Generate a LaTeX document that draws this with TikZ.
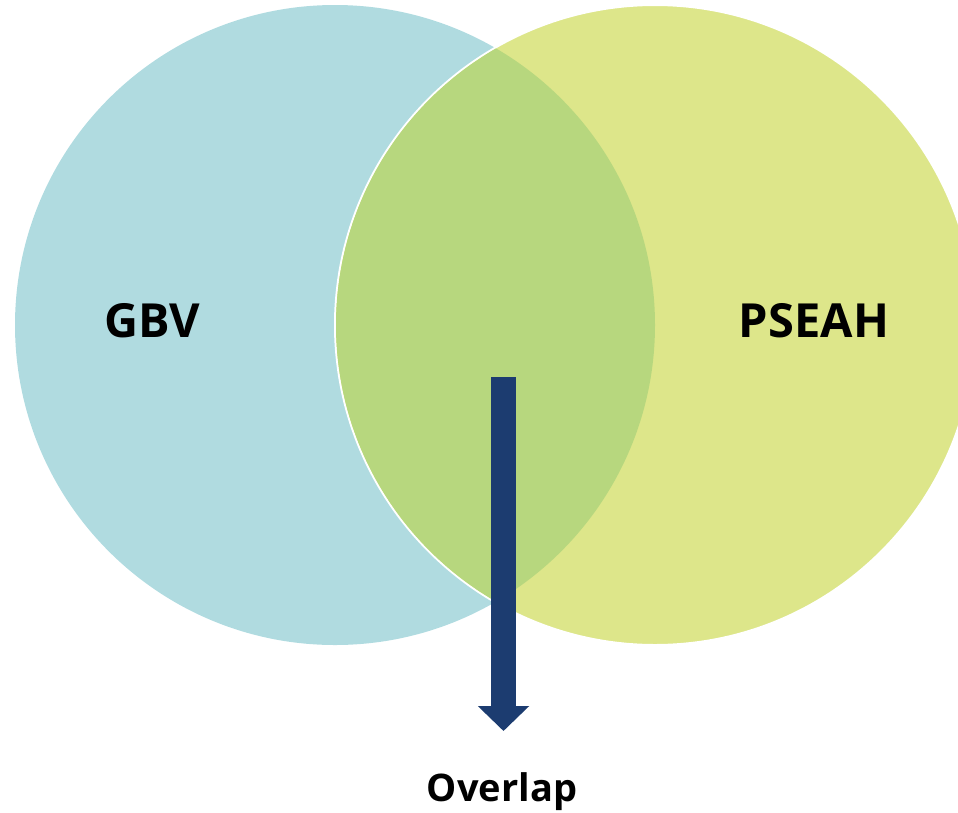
\documentclass[tikz,border=0pt]{standalone}
\usepackage{fontspec}
\setmainfont{Open Sans}
\usetikzlibrary{arrows.meta}
\definecolor{gbvblue}{HTML}{B0DBE0}
\definecolor{pseahgreen}{HTML}{DDE68A}
\definecolor{overlapgreen}{HTML}{B7D77E}
\definecolor{arrowblue}{HTML}{1C3C70}
\begin{document}
\begin{tikzpicture}[x=1pt,y=-1pt,>=Stealth]
\useasboundingbox (0,0) rectangle (958,812);
\clip (0,0) rectangle (958,812);
\tikzset{lbl/.style={font=\bfseries\fontsize{47}{50}\selectfont}}

\coordinate (gbvc) at (335,325);
\coordinate (pseahc) at (655,325);
\fill[gbvblue] (gbvc) circle[radius=320];
\filldraw[fill=pseahgreen,draw=white,line width=2] (pseahc) circle[radius=320];
\begin{scope}
  \clip (gbvc) circle[radius=320];
  \fill[overlapgreen] (pseahc) circle[radius=319];
\end{scope}

\node[lbl] (gbv) at (152,321) {GBV};
\node[lbl] (pseah) at (814,321) {PSEAH};
\node[font=\bfseries\fontsize{38}{40}\selectfont] (overlap) at (502,792) {Overlap};

\coordinate (arrtop) at (503.5,377);
\coordinate (arrtip) at (503.5,731);
\draw[arrowblue,line width=25,-{Triangle[width=50,length=25]}] (arrtop) -- (arrtip);
\end{tikzpicture}
\end{document}
